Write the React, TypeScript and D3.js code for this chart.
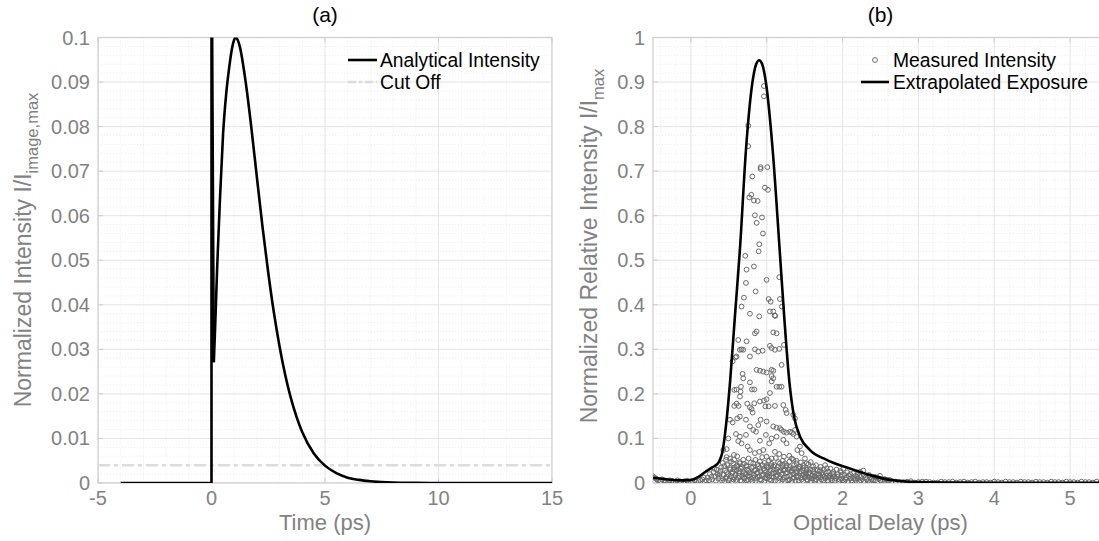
import React from "react";
import * as d3 from "d3";

// ---------- Panel (a) data ----------
const timeA = [-4, 0, 0, 0.1, 0.15, 0.25, 0.37, 0.51, 0.65, 0.78, 0.9, 1.0, 1.06, 1.15, 1.25, 1.5, 1.75, 2.0, 2.25, 2.5, 2.75, 3.0, 3.25, 3.5, 3.75, 4.0, 4.5, 5.0, 5.5, 6.0, 6.5, 7.0, 8.0, 9.0, 10, 15];
const intensityA = [0, 0, 0.13, 0.0271, 0.0335, 0.0485, 0.0634, 0.0784, 0.0875, 0.0933, 0.0975, 0.0995, 0.1, 0.0995, 0.0979, 0.0902, 0.08, 0.0686, 0.0574, 0.0472, 0.0382, 0.0306, 0.0242, 0.019, 0.0148, 0.0114, 0.0067, 0.0039, 0.0022, 0.0012, 0.0007, 0.0004, 0.0001, 0.00003, 0, 0];
const cutOffA = 0.004;
const xTicksA = [-5, 0, 5, 10, 15];
const yTicksA = [0, 0.01, 0.02, 0.03, 0.04, 0.05, 0.06, 0.07, 0.08, 0.09, 0.1];
const yTickLabelsA = ["0", "0.01", "0.02", "0.03", "0.04", "0.05", "0.06", "0.07", "0.08", "0.09", "0.1"];

// ---------- Panel (b) data ----------
const delayB = [-0.5, -0.3, -0.1, 0.03, 0.1, 0.2, 0.28, 0.36, 0.42, 0.475, 0.515, 0.58, 0.646, 0.726, 0.81, 0.86, 0.9, 0.94, 0.99, 1.078, 1.17, 1.23, 1.3, 1.36, 1.44, 1.57, 1.79, 2.14, 2.4, 2.63, 3.0, 3.5, 4.0, 5.0, 5.5];
const exposureB = [0.012, 0.008, 0.006, 0.008, 0.014, 0.026, 0.035, 0.045, 0.074, 0.149, 0.224, 0.374, 0.524, 0.748, 0.898, 0.94, 0.949, 0.94, 0.898, 0.748, 0.524, 0.374, 0.224, 0.149, 0.104, 0.074, 0.052, 0.03, 0.016, 0.007, 0.002, 0.001, 0.0005, 0.0002, 0.0002];
const measuredUpper: [number, number][] = [
  [0.963, 0.891], [0.963, 0.868], [0.756, 0.802], [0.756, 0.756], [0.919, 0.709], [0.919, 0.705], [1.007, 0.709], [0.809, 0.688], [0.976, 0.663], [1.016, 0.658], [0.796, 0.647], [0.77, 0.641], [0.831, 0.634], [0.88, 0.633], [0.844, 0.601], [0.937, 0.596], [0.867, 0.584], [0.95, 0.56], [0.901, 0.536],
  [0.717, 0.51], [0.893, 0.52], [0.734, 0.479], [0.831, 0.486], [0.726, 0.449], [0.853, 0.43], [0.998, 0.456], [0.699, 0.416], [1.165, 0.462], [1.025, 0.413], [1.051, 0.407], [1.174, 0.413], [1.2, 0.396], [1.042, 0.385], [1.086, 0.385], [1.104, 0.376], [1.113, 0.375], [0.901, 0.374], [0.668, 0.396], [0.778, 0.38],
  [0.844, 0.336], [0.866, 0.34], [1.086, 0.338], [1.13, 0.336], [0.734, 0.318], [0.624, 0.321], [0.668, 0.3], [0.646, 0.299], [0.602, 0.284], [0.69, 0.299], [0.778, 0.284], [0.888, 0.295], [0.844, 0.3], [0.945, 0.297], [1.042, 0.308], [1.064, 0.303], [1.108, 0.299], [1.165, 0.301], [1.227, 0.31], [0.55, 0.273], [0.589, 0.282], [1.196, 0.265],
  [0.866, 0.254], [0.91, 0.252], [0.954, 0.25], [0.998, 0.248], [1.064, 0.254], [1.086, 0.252], [1.064, 0.24], [1.086, 0.235], [1.13, 0.216], [1.165, 0.216], [1.196, 0.216], [1.064, 0.228], [0.682, 0.245], [0.69, 0.235], [0.66, 0.216], [0.602, 0.21], [0.572, 0.209], [0.655, 0.205], [0.778, 0.226], [0.805, 0.21], [0.836, 0.21],
  [0.646, 0.194], [0.602, 0.178], [0.572, 0.173], [0.629, 0.173], [0.743, 0.178], [0.778, 0.17], [0.8, 0.166], [0.814, 0.158], [0.836, 0.179], [0.91, 0.183], [0.963, 0.185], [0.998, 0.188], [1.042, 0.202], [0.981, 0.172], [1.025, 0.172], [1.108, 0.173], [1.218, 0.175], [1.249, 0.164], [1.262, 0.157], [1.35, 0.153], [1.372, 0.145],
  [0.515, 0.142], [0.55, 0.136], [0.611, 0.145], [0.646, 0.149], [0.726, 0.142], [0.778, 0.127], [0.888, 0.13], [0.919, 0.142], [0.998, 0.138], [1.086, 0.127], [1.13, 0.124], [1.174, 0.123], [1.196, 0.119], [1.227, 0.115], [1.262, 0.113], [1.306, 0.115], [1.332, 0.113], [1.35, 0.11], [1.372, 0.119], [1.394, 0.104],
  [1.262, 0.089], [1.218, 0.097], [1.13, 0.104], [1.064, 0.1], [1.033, 0.089], [0.989, 0.108], [0.91, 0.095], [0.858, 0.115], [0.822, 0.119], [0.726, 0.108], [0.646, 0.104], [0.594, 0.11], [0.624, 0.094], [0.668, 0.089], [0.748, 0.082], [0.778, 0.074], [0.844, 0.067], [0.901, 0.07], [0.954, 0.074], [0.998, 0.059], [1.064, 0.055], [1.108, 0.07], [1.165, 0.065], [1.227, 0.059], [1.297, 0.061], [1.35, 0.052], [1.403, 0.074], [1.438, 0.082], [1.46, 0.067], [1.504, 0.055], [1.526, 0.044], [1.394, 0.044],
  [0.493, 0.1], [0.471, 0.076], [0.427, 0.074], [0.462, 0.052], [0.515, 0.055], [0.567, 0.063], [0.558, 0.044], [0.602, 0.037], [0.646, 0.044], [0.69, 0.052], [0.734, 0.037], [0.822, 0.044], [0.91, 0.048], [0.998, 0.04], [1.086, 0.037], [1.174, 0.044], [1.262, 0.04], [1.341, 0.033], [1.429, 0.037], [1.526, 0.029], [1.614, 0.037], [1.702, 0.029], [1.79, 0.033], [1.878, 0.025], [2.01, 0.032], [2.23, 0.025], [2.273, 0.028], [2.493, 0.016],
];
const measuredBand: [number, number][] = [
  [0.22, 0.012], [0.25, 0.02], [0.28, 0.008], [0.3, 0.025], [0.32, 0.015], [0.34, 0.03], [0.36, 0.01], [0.38, 0.022], [0.4, 0.035], [0.41, 0.005], [0.43, 0.018], [0.45, 0.028], [0.46, 0.01], [0.48, 0.04], [0.49, 0.02], [0.5, 0.006], [0.52, 0.03], [0.53, 0.015], [0.55, 0.025], [0.56, 0.008], [0.58, 0.035], [0.59, 0.018], [0.6, 0.028], [0.62, 0.012], [0.63, 0.022], [0.65, 0.005], [0.66, 0.032], [0.68, 0.016], [0.69, 0.026], [0.71, 0.01], [0.72, 0.02], [0.74, 0.03], [0.75, 0.007], [0.77, 0.024], [0.78, 0.014], [0.8, 0.034], [0.81, 0.004], [0.83, 0.018], [0.84, 0.028], [0.86, 0.01], [0.87, 0.022], [0.89, 0.038], [0.9, 0.015], [0.92, 0.026], [0.93, 0.006], [0.95, 0.02], [0.96, 0.032], [0.98, 0.012], [0.99, 0.025],
  [1.01, 0.017], [1.02, 0.035], [1.04, 0.008], [1.05, 0.028], [1.07, 0.015], [1.08, 0.022], [1.1, 0.04], [1.11, 0.005], [1.13, 0.03], [1.14, 0.018], [1.16, 0.025], [1.17, 0.01], [1.19, 0.034], [1.2, 0.02], [1.22, 0.028], [1.23, 0.012], [1.25, 0.022], [1.26, 0.038], [1.28, 0.006], [1.29, 0.03], [1.31, 0.016], [1.32, 0.025], [1.34, 0.01], [1.35, 0.02], [1.37, 0.032], [1.38, 0.005], [1.4, 0.026], [1.41, 0.014], [1.43, 0.022], [1.44, 0.036], [1.46, 0.008], [1.47, 0.018], [1.49, 0.028], [1.5, 0.012], [1.52, 0.024], [1.54, 0.006], [1.55, 0.02], [1.57, 0.03], [1.59, 0.01], [1.6, 0.016], [1.62, 0.025], [1.64, 0.005], [1.66, 0.02], [1.68, 0.012], [1.7, 0.026], [1.72, 0.008], [1.74, 0.018], [1.76, 0.014], [1.78, 0.022], [1.8, 0.006],
  [1.83, 0.016], [1.85, 0.01], [1.88, 0.02], [1.9, 0.005], [1.93, 0.014], [1.96, 0.008], [1.99, 0.018], [2.02, 0.004], [2.05, 0.012], [2.08, 0.016], [2.12, 0.006], [2.15, 0.01], [2.19, 0.014], [2.22, 0.004], [2.26, 0.009], [2.3, 0.012], [2.34, 0.005], [2.38, 0.008], [2.43, 0.006], [2.48, 0.01], [2.52, 0.004], [2.58, 0.007], [2.65, 0.004],
  [0.42, 0.045], [0.47, 0.058], [0.53, 0.048], [0.57, 0.052], [0.61, 0.06], [0.64, 0.047], [0.7, 0.043], [0.76, 0.055], [0.79, 0.046], [0.85, 0.052], [0.88, 0.042], [0.94, 0.058], [0.97, 0.045], [1.03, 0.05], [1.06, 0.043], [1.12, 0.056], [1.15, 0.047], [1.21, 0.05], [1.24, 0.044], [1.3, 0.048], [1.33, 0.055], [1.39, 0.05], [1.45, 0.046], [1.48, 0.04], [1.55, 0.042], [1.58, 0.047], [1.65, 0.04], [1.71, 0.036], [1.77, 0.04], [1.84, 0.032], [1.92, 0.03], [1.97, 0.027], [2.06, 0.024], [2.14, 0.022], [2.2, 0.02], [2.35, 0.018], [2.42, 0.014],
  [0.31, 0.032], [0.35, 0.02], [0.39, 0.028], [0.44, 0.038], [0.47, 0.024], [0.51, 0.034], [0.54, 0.022], [0.57, 0.03], [0.61, 0.04], [0.64, 0.026], [0.67, 0.036], [0.7, 0.022], [0.73, 0.04], [0.76, 0.028], [0.79, 0.02], [0.82, 0.036], [0.85, 0.03], [0.88, 0.024], [0.91, 0.034], [0.94, 0.04], [0.97, 0.028], [1.0, 0.036], [1.03, 0.022], [1.06, 0.038], [1.09, 0.03], [1.12, 0.024], [1.15, 0.036], [1.18, 0.028], [1.21, 0.04], [1.24, 0.03], [1.27, 0.024], [1.3, 0.036], [1.33, 0.028], [1.36, 0.04], [1.39, 0.022], [1.42, 0.032], [1.45, 0.026], [1.48, 0.034], [1.51, 0.02], [1.53, 0.03], [1.56, 0.024], [1.61, 0.03], [1.63, 0.022], [1.67, 0.028], [1.69, 0.018], [1.73, 0.024], [1.75, 0.03], [1.79, 0.016], [1.81, 0.026], [1.86, 0.022], [1.89, 0.014], [1.94, 0.02], [1.98, 0.024], [2.03, 0.018], [2.1, 0.02], [2.17, 0.016], [2.24, 0.014], [2.28, 0.018], [2.36, 0.012], [2.45, 0.012], [2.55, 0.009], [2.62, 0.007],
  [0.24, 0.006], [0.27, 0.014], [0.33, 0.005], [0.37, 0.016], [0.42, 0.01], [0.44, 0.003], [0.47, 0.014], [0.51, 0.009], [0.54, 0.003], [0.57, 0.013], [0.6, 0.007], [0.64, 0.016], [0.67, 0.004], [0.7, 0.012], [0.73, 0.006], [0.76, 0.016], [0.79, 0.009], [0.82, 0.012], [0.85, 0.004], [0.88, 0.014], [0.91, 0.008], [0.94, 0.016], [0.97, 0.004], [1.0, 0.01], [1.03, 0.014], [1.06, 0.006], [1.09, 0.012], [1.12, 0.016], [1.15, 0.004], [1.18, 0.014], [1.21, 0.008], [1.24, 0.004], [1.27, 0.014], [1.3, 0.008], [1.33, 0.004], [1.36, 0.012], [1.39, 0.016], [1.42, 0.006], [1.45, 0.012], [1.48, 0.004], [1.51, 0.016], [1.53, 0.008], [1.56, 0.012], [1.58, 0.004], [1.61, 0.01], [1.63, 0.015], [1.65, 0.008], [1.69, 0.004], [1.71, 0.013], [1.75, 0.006], [1.77, 0.01], [1.81, 0.004], [1.82, 0.012], [1.86, 0.006], [1.87, 0.014], [1.91, 0.01], [1.95, 0.004], [1.98, 0.01], [2.0, 0.006], [2.04, 0.008], [2.07, 0.004], [2.1, 0.01], [2.13, 0.003], [2.17, 0.007], [2.2, 0.01], [2.24, 0.006], [2.28, 0.004], [2.32, 0.008], [2.36, 0.003], [2.4, 0.006], [2.46, 0.003], [2.5, 0.006], [2.55, 0.003], [2.6, 0.005],
];
const measuredBaseline: [number, number][] = [
  [-0.5, 0.015], [-0.48, 0.012], [-0.46, 0.01], [-0.45, 0.008], [-0.43, 0.006], [-0.4, 0.004], [-0.38, 0.008], [-0.35, 0.006], [-0.33, 0.004], [-0.3, 0.003], [-0.28, 0.006], [-0.25, 0.005], [-0.23, 0.003], [-0.2, 0.002], [-0.18, 0.006], [-0.15, 0.004], [-0.13, 0.002], [-0.1, 0.003], [-0.08, 0.004], [-0.05, 0.005], [-0.03, 0.003], [0.0, 0.002], [0.02, 0.004], [0.05, 0.006], [0.07, 0.003], [0.1, 0.004], [0.12, 0.007], [0.15, 0.008], [0.17, 0.012], [0.18, 0.003], [0.2, 0.006],
  [2.7, 0.003], [2.75, 0.002], [2.8, 0.002], [2.85, 0.003], [2.9, 0.004], [2.95, 0.001], [3.0, 0.002], [3.05, 0.003], [3.1, 0.003], [3.15, 0.002], [3.2, 0.001], [3.25, 0.001], [3.3, 0.003], [3.35, 0.002], [3.4, 0.002], [3.45, 0.003], [3.5, 0.001], [3.55, 0.002], [3.6, 0.003], [3.65, 0.001], [3.7, 0.002], [3.75, 0.003], [3.8, 0.001], [3.85, 0.002], [3.9, 0.002], [3.95, 0.001], [4.0, 0.003], [4.05, 0.002], [4.1, 0.001], [4.15, 0.003], [4.2, 0.002], [4.25, 0.002], [4.3, 0.001], [4.35, 0.003], [4.4, 0.002], [4.45, 0.002], [4.5, 0.001], [4.55, 0.003], [4.6, 0.002], [4.65, 0.002], [4.7, 0.001], [4.75, 0.003], [4.8, 0.002], [4.85, 0.002], [4.9, 0.001], [4.95, 0.003], [5.0, 0.002], [5.05, 0.002], [5.1, 0.001], [5.15, 0.003], [5.2, 0.002], [5.25, 0.002], [5.3, 0.001], [5.35, 0.003], [5.4, 0.002], [5.45, 0.002],
];
const xTicksB = [0, 1, 2, 3, 4, 5];
const yTicksB = [0, 0.1, 0.2, 0.3, 0.4, 0.5, 0.6, 0.7, 0.8, 0.9, 1];
const yTickLabelsB = ["0", "0.1", "0.2", "0.3", "0.4", "0.5", "0.6", "0.7", "0.8", "0.9", "1"];

const FONT = "'Liberation Sans', Arial, Helvetica, sans-serif";
const GRAY_TEXT = "#828282";
const AXIS = "#cdcdcd";
const GRID_MAJOR = "#e6e6e6";
const GRID_MINOR = "#ededed";
const MARKER = "#6a6a6a";

type Box = { left: number; right: number; top: number; bottom: number };

function Frame({ box, x, y, xMinor, yMinor, xTicks, yTicks, yLabels, clipId }: any) {
  return (
    <g>
      <defs>
        <clipPath id={clipId}>
          <rect x={box.left} y={box.top} width={box.right - box.left} height={box.bottom - box.top} />
        </clipPath>
      </defs>
      <g clipPath={`url(#${clipId})`}>
        {xMinor.map((v: number, i: number) => (
          <line key={"xm" + i} x1={x(v)} x2={x(v)} y1={box.top} y2={box.bottom} stroke={GRID_MINOR} strokeDasharray="1,2" />
        ))}
        {yMinor.map((v: number, i: number) => (
          <line key={"ym" + i} y1={y(v)} y2={y(v)} x1={box.left} x2={box.right} stroke={GRID_MINOR} strokeDasharray="1,2" />
        ))}
        {xTicks.map((v: number, i: number) => (
          <line key={"xg" + i} x1={x(v)} x2={x(v)} y1={box.top} y2={box.bottom} stroke={GRID_MAJOR} />
        ))}
        {yTicks.map((v: number, i: number) => (
          <line key={"yg" + i} y1={y(v)} y2={y(v)} x1={box.left} x2={box.right} stroke={GRID_MAJOR} />
        ))}
      </g>
      <rect x={box.left} y={box.top} width={box.right - box.left} height={box.bottom - box.top} fill="none" stroke={AXIS} strokeWidth={1.2} />
      {xTicks.map((v: number, i: number) => (
        <g key={"xt" + i}>
          <line x1={x(v)} x2={x(v)} y1={box.bottom} y2={box.bottom - 5} stroke={AXIS} />
          <line x1={x(v)} x2={x(v)} y1={box.top} y2={box.top + 5} stroke={AXIS} />
          <text x={x(v)} y={box.bottom + 22} textAnchor="middle" fontSize={20} fill={GRAY_TEXT} fontFamily={FONT}>
            {String(v)}
          </text>
        </g>
      ))}
      {yTicks.map((v: number, i: number) => (
        <g key={"yt" + i}>
          <line x1={box.left} x2={box.left + 5} y1={y(v)} y2={y(v)} stroke={AXIS} />
          <text x={box.left - 8} y={y(v) + 7} textAnchor="end" fontSize={20} fill={GRAY_TEXT} fontFamily={FONT}>
            {yLabels[i]}
          </text>
        </g>
      ))}
    </g>
  );
}

export default function App() {
  const W = 1099, H = 541;
  const boxA: Box = { left: 98, right: 552, top: 37.5, bottom: 483 };
  const boxB: Box = { left: 653, right: 1108, top: 37.5, bottom: 483 };

  const xA = d3.scaleLinear().domain([-5, 15]).range([boxA.left, boxA.right]);
  const yA = d3.scaleLinear().domain([0, 0.1]).range([boxA.bottom, boxA.top]);
  const xB = d3.scaleLinear().domain([-0.5, 5.5]).range([boxB.left, boxB.right]);
  const yB = d3.scaleLinear().domain([0, 1]).range([boxB.bottom, boxB.top]);

  const ptsA = timeA.map((t, i) => [t, intensityA[i]] as [number, number]);
  const spikeA = ptsA.slice(0, 4);
  const curveA = ptsA.slice(3);
  const lineLin = d3.line<[number, number]>().x(d => xA(d[0])).y(d => yA(d[1]));
  const lineSmooth = d3.line<[number, number]>().x(d => xA(d[0])).y(d => yA(d[1])).curve(d3.curveMonotoneX);

  const ptsB = delayB.map((t, i) => [t, exposureB[i]] as [number, number]);
  const lineB = d3.line<[number, number]>().x(d => xB(d[0])).y(d => yB(d[1])).curve(d3.curveMonotoneX);
  const measuredB = [...measuredBaseline, ...measuredBand, ...measuredUpper];

  const xMinorA = d3.range(-5, 15.01, 1);
  const yMinorA = d3.range(0, 0.1001, 0.002);
  const xMinorB = d3.range(-0.4, 5.51, 0.2);
  const yMinorB = d3.range(0, 1.001, 0.02);

  return (
    <svg width={W} height={H} style={{ position: "absolute", left: 0, top: 0, background: "#fff" }} fontFamily={FONT}>
      <rect x={0} y={0} width={W} height={H} fill="#fff" />
      {/* Panel (a) */}
      <Frame box={boxA} x={xA} y={yA} xMinor={xMinorA} yMinor={yMinorA} xTicks={xTicksA} yTicks={yTicksA} yLabels={yTickLabelsA} clipId="clipA" />
      <g clipPath="url(#clipA)">
        <line x1={boxA.left} x2={boxA.right} y1={yA(cutOffA)} y2={yA(cutOffA)} stroke="#dcdcdc" strokeWidth={2.5} strokeDasharray="12,4,4,4" />
        <path d={lineLin(spikeA) || ""} fill="none" stroke="#000" strokeWidth={2.6} />
        <path d={lineSmooth(curveA) || ""} fill="none" stroke="#000" strokeWidth={2.6} />
      </g>
      <text x={(boxA.left + boxA.right) / 2} y={22} textAnchor="middle" fontSize={21} fill="#000">(a)</text>
      <text x={(boxA.left + boxA.right) / 2} y={530} textAnchor="middle" fontSize={22} fill={GRAY_TEXT}>Time (ps)</text>
      <text transform="translate(31,250) rotate(-90)" textAnchor="middle" fontSize={23} fill={GRAY_TEXT}>
        Normalized Intensity I/I<tspan fontSize={16.5} dy={7}>image,max</tspan>
      </text>
      {/* legend a */}
      <line x1={348} x2={377} y1={60} y2={60} stroke="#000" strokeWidth={2.6} />
      <text x={380} y={66.5} fontSize={19.3} fill="#000">Analytical Intensity</text>
      <line x1={348} x2={377} y1={82} y2={82} stroke="#dcdcdc" strokeWidth={2.5} strokeDasharray="8,3,3,3" />
      <text x={380} y={88.5} fontSize={19.3} fill="#000">Cut Off</text>

      {/* Panel (b) */}
      <Frame box={boxB} x={xB} y={yB} xMinor={xMinorB} yMinor={yMinorB} xTicks={xTicksB} yTicks={yTicksB} yLabels={yTickLabelsB} clipId="clipB" />
      <g clipPath="url(#clipB)">
        {measuredB.map((p, i) => (
          <circle key={i} cx={xB(p[0])} cy={yB(p[1])} r={2.4} fill="none" stroke={MARKER} strokeWidth={1} />
        ))}
        <path d={lineB(ptsB) || ""} fill="none" stroke="#000" strokeWidth={2.6} />
      </g>
      <text x={(boxB.left + boxB.right) / 2} y={22} textAnchor="middle" fontSize={21} fill="#000">(b)</text>
      <text x={(boxB.left + boxB.right) / 2} y={530} textAnchor="middle" fontSize={22} fill={GRAY_TEXT}>Optical Delay (ps)</text>
      <text transform="translate(597,246) rotate(-90)" textAnchor="middle" fontSize={23} fill={GRAY_TEXT}>
        Normalized Relative Intensity I/I<tspan fontSize={16.5} dy={7}>max</tspan>
      </text>
      {/* legend b */}
      <circle cx={875} cy={60} r={2.4} fill="none" stroke={MARKER} strokeWidth={1} />
      <text x={893} y={66.5} fontSize={19.3} fill="#000">Measured Intensity</text>
      <line x1={861} x2={889} y1={82} y2={82} stroke="#000" strokeWidth={2.6} />
      <text x={893} y={88.5} fontSize={19.3} fill="#000">Extrapolated Exposure</text>
    </svg>
  );
}
